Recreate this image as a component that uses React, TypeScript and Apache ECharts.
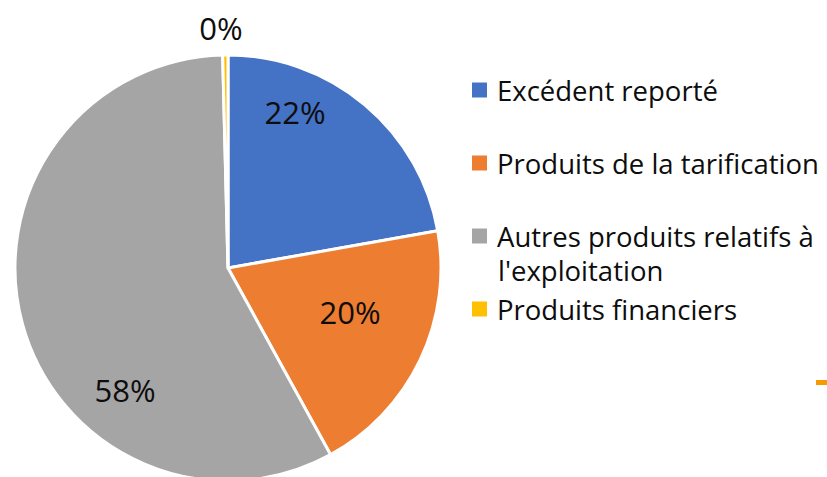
import React, { useEffect, useRef } from "react";
import * as echarts from "echarts";

const categories = [
  "Excédent reporté",
  "Produits de la tarification",
  "Autres produits relatifs à l'exploitation",
  "Produits financiers",
];
const values = [22.2, 19.8, 57.6, 0.4];
const colors = ["#4472C4", "#ED7D31", "#A5A5A5", "#FFC000"];

export default function App() {
  const ref = useRef<HTMLDivElement>(null);
  useEffect(() => {
    if (!ref.current) return;
    const chart = echarts.init(ref.current, undefined, { renderer: "svg" });
    const total = values.reduce((a, b) => a + b, 0);
    const labelPos = [
      [295, 112],
      [350, 312],
      [125, 390],
      [221, 28],
    ];
    const legendTops = [90, 163, 236, 309];
    const font = "'Open Sans', Lato, sans-serif";
    chart.setOption({
      animation: false,
      backgroundColor: "#ffffff",
      legend: categories.map((c, i) => ({
        data: [c],
        left: 470,
        top: legendTops[i] - 17,
        padding: 0,
        itemWidth: 17,
        itemHeight: 17,
        itemGap: 0,
        icon: "rect",
        selectedMode: false,
        formatter: (n: string) =>
          n === categories[2] ? "Autres produits relatifs à" : n,
        textStyle: {
          fontFamily: font,
          fontSize: 27.5,
          color: "#0d0d0d",
          lineHeight: 34,
          padding: [0, 0, 0, 4],
        },
      })),
      series: [
        {
          type: "pie",
          center: [228, 268],
          radius: 213,
          startAngle: 90,
          clockwise: true,
          avoidLabelOverlap: false,
          itemStyle: { borderColor: "#ffffff", borderWidth: 3 },
          label: {
            show: true,
            position: "inside",
            fontFamily: font,
            fontSize: 31,
            color: "#0d0d0d",
            formatter: (p: any) => Math.round((p.value / total) * 100) + "%",
          },
          labelLine: { show: false },
          labelLayout: (p: any) => ({
            x: labelPos[p.dataIndex][0],
            y: labelPos[p.dataIndex][1],
            align: "center",
            verticalAlign: "middle",
          }),
          data: categories.map((c, i) => ({
            name: c,
            value: values[i],
            itemStyle: { color: colors[i] },
          })),
        },
      ],
      graphic: [
        {
          type: "text",
          left: 498,
          top: 256,
          style: {
            text: "l'exploitation",
            fontFamily: font,
            fontSize: 27.5,
            fill: "#0d0d0d",
          },
        },
        {
          type: "rect",
          shape: { x: 816, y: 380, width: 11, height: 5 },
          style: { fill: "#F59B00" },
        },
      ],
    });
    return () => chart.dispose();
  }, []);
  return (
    <div
      ref={ref}
      style={{ position: "fixed", left: 0, top: 0, width: 827, height: 477 }}
    />
  );
}
